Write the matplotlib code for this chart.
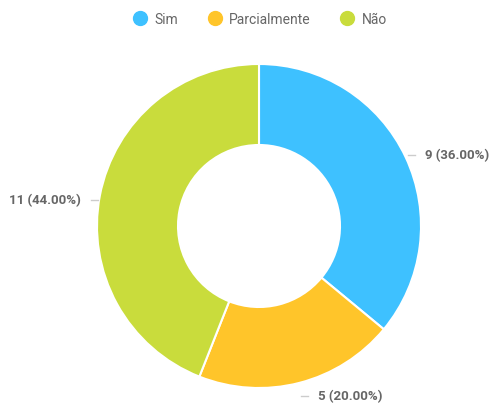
import numpy as np
import matplotlib.pyplot as plt
from matplotlib.lines import Line2D

plt.rcParams['font.family'] = ['Roboto', 'DejaVu Sans']

# dados
categorias = ['Sim', 'Parcialmente', 'Não']
valores = [9, 5, 11]
cores = ['#3EC1FF', '#FFC52A', '#C9DC3C']
# deslocamento vertical dos rótulos (px)
desloc_y = [-2, 13, 4]

W, H = 491, 410
fig = plt.figure(figsize=(W / 100, H / 100), dpi=100)

cx, cy, R = 259, 227, 162
ax = fig.add_axes([(cx - R) / W, (H - cy - R) / H, 2 * R / W, 2 * R / H])

wedges, _ = ax.pie(valores, colors=cores, startangle=90, counterclock=False,
                   radius=1.0, wedgeprops=dict(width=0.5, edgecolor='white', linewidth=1.5))
ax.set_xlim(-1, 1)
ax.set_ylim(-1, 1)
ax.set_axis_off()

total = sum(valores)
px = 1.0 / R
for w, v, c, dy in zip(wedges, valores, cores, desloc_y):
    ang = np.deg2rad((w.theta1 + w.theta2) / 2)
    x = np.cos(ang) * 1.0
    y = np.sin(ang) * 1.0 - dy * px
    s = 1 if x >= 0 else -1
    x0 = x + s * 2 * px
    x1 = x0 + s * 7 * px
    ax.plot([x0, x1], [y, y], color='#cccccc', lw=1, clip_on=False)
    ax.text(x1 + s * 10 * px, y, f"{v} ({v / total * 100:.2f}%)",
            ha='left' if s > 0 else 'right', va='center',
            fontsize=9.5, fontweight='bold', color='#666666', clip_on=False)

handles = [Line2D([], [], marker='o', linestyle='none', markersize=10,
                  markerfacecolor=c, markeredgecolor=c) for c in cores]
fig.legend(handles, categorias, loc='center', bbox_to_anchor=(260 / W, 1 - 20 / H),
           ncol=3, frameon=False, fontsize=10, labelcolor='#666666',
           handletextpad=0.55, columnspacing=2.1, handlelength=1.0)

fig.savefig('out.png', dpi=100, facecolor='white')
